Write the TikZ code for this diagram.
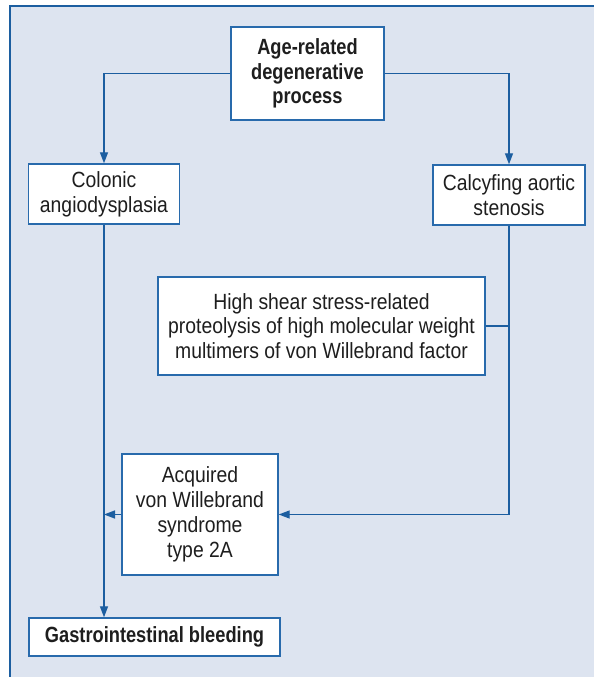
\documentclass[tikz,border=0pt]{standalone}
\usepackage{fontspec}
\setmainfont{Liberation Sans}[FakeStretch=0.88, BoldFeatures={FakeStretch=0.83}]
\usetikzlibrary{arrows.meta}
\definecolor{panelbg}{RGB}{221,228,240}
\definecolor{lineblue}{RGB}{28,94,160}
\definecolor{boxblue}{RGB}{40,106,172}
\definecolor{txt}{RGB}{30,30,30}
\tikzset{
  box/.style={draw=boxblue, line width=1.4pt, fill=white, inner sep=0pt, align=center,
    text=txt, font=\fontsize{22}{24.8}\selectfont},
  boldbox/.style={box, font=\fontsize{22}{24.8}\selectfont\bfseries},
  conn/.style={draw=lineblue, line width=1.4pt},
  arr/.style={conn, -{Triangle[length=11pt,width=8pt]}},
}
\begin{document}
\begin{tikzpicture}[x=1pt,y=1pt]
\useasboundingbox (0,0) rectangle (594,677);
\fill[white] (0,0) rectangle (594,677);
\fill[panelbg] (10,0) rectangle (594,671);
\draw[conn] (10,0) -- (10,671) -- (594,671);

\node[boldbox, minimum width=153pt, minimum height=93pt] (age) at (307.5,603.5) {Age-related\\degenerative\\process};
\node[box, minimum width=151pt, minimum height=60pt] (colonic) at (104,483) {Colonic\\angiodysplasia};
\node[box, minimum width=152pt, minimum height=60pt] (calc) at (509,482) {Calcyfing aortic\\stenosis};
\node[box, minimum width=327pt, minimum height=98pt] (hs) at (321.5,351) {High shear stress-related\\proteolysis of high molecular weight\\multimers of von Willebrand factor};
\node[box, minimum width=156pt, minimum height=121pt] (acq) at (200,162.5) {Acquired\\von Willebrand\\syndrome\\type 2A};
\node[boldbox, minimum width=251pt, minimum height=38pt] (gi) at (154.5,40) {Gastrointestinal bleeding};

\draw[arr] (age.west) -| (colonic.north);
\draw[arr] (age.east) -| (calc.north);
\draw[arr] (calc.south) |- (acq.east);
\draw[conn] (hs.east) -- (hs.east -| calc.south);
\draw[arr] (acq.west) -- (acq.west -| colonic.south);
\draw[arr] (colonic.south) -- (colonic.south |- gi.north);
\end{tikzpicture}
\end{document}
